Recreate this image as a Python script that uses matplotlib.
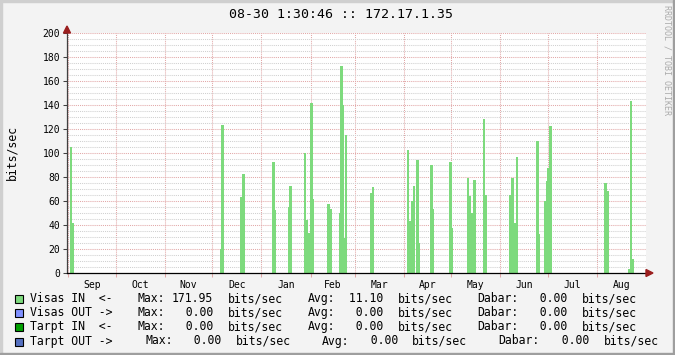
import matplotlib
matplotlib.use("Agg")
import matplotlib.pyplot as plt
from matplotlib.patches import Polygon, Rectangle
from matplotlib.ticker import FixedLocator, MultipleLocator, NullFormatter

# ---- data -------------------------------------------------------------
# day offset from Sep 1 and traffic in bits/sec for "Visas IN"
days = [1, 2, 96, 97, 109, 110, 129, 130, 139, 140, 149, 150, 152, 153, 154,
        164, 165, 171, 172, 173, 174, 175, 191, 192, 214, 215, 217, 218, 220,
        221, 229, 230, 241, 242, 252, 253, 255, 256, 262, 263, 279, 280, 282,
        283, 296, 297, 301, 302, 303, 304, 339, 340, 354, 355, 356]
visas_in = [105, 41, 20, 123, 63, 82, 92, 52, 55, 72.5, 100, 44, 33, 141, 61,
            57, 53, 50, 172, 139.5, 29, 115, 66, 71, 102.5, 43, 60, 72.5, 94,
            25, 90, 53, 92, 37.5, 79, 64, 50, 77, 128, 65, 65, 79, 41,
            96, 110, 32.5, 60, 76, 87.5, 122.5, 75, 68, 3, 143, 11.5]

month_names = ["Sep", "Oct", "Nov", "Dec", "Jan", "Feb", "Mar", "Apr", "May",
               "Jun", "Jul", "Aug"]
month_starts = [0, 30, 61, 91, 122, 153, 181, 212, 242, 273, 303, 334, 365]

series_names = ["Visas IN  <-", "Visas OUT ->", "Tarpt IN  <-", "Tarpt OUT ->"]
series_colors = ["#7DDA7D", "#8090FF", "#00A000", "#5570C0"]
stat_max = [171.95, 0.0, 0.0, 0.0]
stat_avg = [11.10, 0.0, 0.0, 0.0]
stat_last = [0.0, 0.0, 0.0, 0.0]

title = "08-30 1:30:46 :: 172.17.1.35"
unit = "bits/sec"

# ---- figure -------------------------------------------------------------
W, H = 675, 355
MONO = "DejaVu Sans Mono"
fig = plt.figure(figsize=(W / 100, H / 100), dpi=100, facecolor="#F3F3F3")


def fx(x):
    return x / W


def fy(y):
    return 1 - y / H


left, right, top, bottom = 67, 646, 33, 273
ax = fig.add_axes([fx(left), fy(bottom), (right - left) / W, (bottom - top) / H])
ax.set_facecolor("white")

bars = ax.bar(days, visas_in, width=1, align="edge", color=series_colors[0],
              linewidth=0, antialiased=False, zorder=2)
for b in bars:
    b.set_snap(False)

ax.set_xlim(-0.9, 365.0)
ax.set_ylim(0, 200)

# y grid: minor every 5, major every 20
ax.yaxis.set_major_locator(MultipleLocator(20))
ax.yaxis.set_minor_locator(MultipleLocator(5))
ax.grid(which="minor", axis="y", color="#D0D0D0", linestyle=(0, (1, 1)),
        linewidth=0.75, zorder=0)
ax.grid(which="major", axis="y", color="#E2A8A8", linestyle=(0, (1, 1)),
        linewidth=0.75, zorder=0)

# x: month boundaries as grid, names in the middle of each month
ax.xaxis.set_major_locator(FixedLocator(month_starts[:-1]))
ax.xaxis.set_major_formatter(NullFormatter())
mids = [(a + b) / 2 for a, b in zip(month_starts[:-1], month_starts[1:])]
ax.xaxis.set_minor_locator(FixedLocator(mids))
ax.set_xticklabels(month_names, minor=True)
ax.grid(which="major", axis="x", color="#E2A8A8", linestyle=(0, (1, 1)),
        linewidth=0.75, zorder=0)
ax.set_axisbelow(True)

ax.tick_params(axis="x", which="major", length=3, width=0.75, color="#E2A8A8",
               direction="out")
ax.tick_params(axis="x", which="minor", length=0, pad=5, labelsize=7)
ax.tick_params(axis="y", which="major", length=3, width=0.75, color="#404040",
               pad=2, labelsize=7)
ax.tick_params(axis="y", which="minor", length=0)
for lab in ax.get_xticklabels(minor=True) + ax.get_yticklabels():
    lab.set_family(MONO)

for s in ("top", "right"):
    ax.spines[s].set_visible(False)
ax.spines["left"].set_color("#404040")
ax.spines["left"].set_linewidth(0.9)
ax.spines["bottom"].set_color("black")
ax.spines["bottom"].set_linewidth(0.9)

# axis arrows
arrow_col = "#9A1E1E"
fig.add_artist(Polygon([(fx(63.5), fy(33)), (fx(70.5), fy(33)), (fx(67), fy(26))],
                       closed=True, color=arrow_col, transform=fig.transFigure))
fig.add_artist(Polygon([(fx(646), fy(269.5)), (fx(646), fy(276.5)), (fx(653), fy(273))],
                       closed=True, color=arrow_col, transform=fig.transFigure))

# title, unit, watermark
fig.text(fx(341), fy(14), title, ha="center", va="center", family=MONO,
         fontsize=9.5, color="black")
fig.text(fx(12), fy(153), unit, ha="center", va="center", rotation=90,
         family=MONO, fontsize=8.3, color="black")
fig.text(fx(667), fy(5), "RRDTOOL / TOBI OETIKER", ha="center", va="top",
         rotation=270, family=MONO, fontsize=6, color="#ABABAB")

# legend rows (rows 1-3 share a column layout, row 4 is justified wider)
cols_a = [137.7, 172, 228, 308, 341.7, 398, 477, 526, 582]
cols_b = [145, 180, 235.5, 322, 357, 412, 498.5, 548, 603.5]
row_y = [298.5, 312.5, 326.7, 341]
for i, name in enumerate(series_names):
    y = row_y[i]
    fig.add_artist(Rectangle((fx(15), fy(y + 4.5)), 8 / W, 8 / H,
                             facecolor=series_colors[i], edgecolor="black",
                             linewidth=0.8, transform=fig.transFigure))
    fig.text(fx(30), fy(y), name, ha="left", va="center", family=MONO,
             fontsize=8.3)
    cols = cols_a if i < 3 else cols_b
    parts = ["Max:", "%6.2f" % stat_max[i], unit,
             "Avg:", "%6.2f" % stat_avg[i], unit,
             "Dabar:", "%6.2f" % stat_last[i], unit]
    for x, t in zip(cols, parts):
        fig.text(fx(x), fy(y), t, ha="left", va="center", family=MONO,
                 fontsize=8.3)

# 3d frame round the image
fig.add_artist(Rectangle((0, 0), fx(2), 1, color="#CFCFCF", transform=fig.transFigure))
fig.add_artist(Rectangle((0, fy(2)), 1, 2 / H, color="#CFCFCF", transform=fig.transFigure))
fig.add_artist(Rectangle((fx(W - 2), 0), fx(2), 1, color="#9E9E9E", transform=fig.transFigure))
fig.add_artist(Rectangle((0, 0), 1, 2 / H, color="#9E9E9E", transform=fig.transFigure))

fig.savefig("out.png", dpi=100, facecolor=fig.get_facecolor())
